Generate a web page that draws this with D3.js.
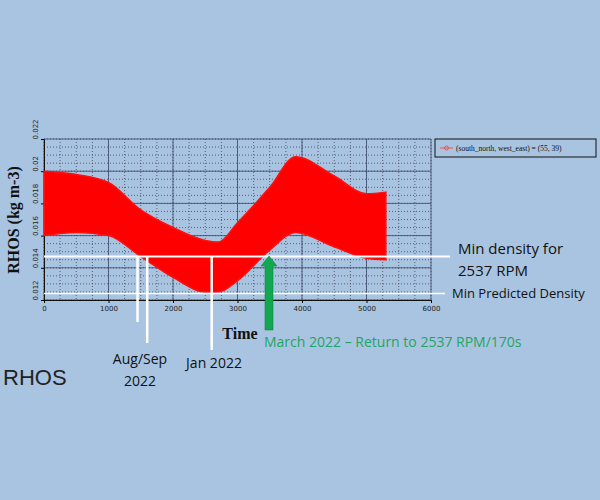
<!DOCTYPE html>
<html><head><meta charset="utf-8">
<script src="https://cdn.jsdelivr.net/npm/d3@7"></script>
<style>body{margin:0;background:#a9c4e0}svg{display:block}</style>
</head><body>
<svg id="c" width="600" height="500"></svg>
<script>
'use strict';
// envelope of the RHOS band
const timeVals  = [0, 500, 1000, 1500, 2000, 2500, 2700, 3000, 3500, 3900, 4500, 5000, 5300];
const upperVals = [0.0200, 0.0198, 0.0193, 0.0176, 0.0165, 0.0157, 0.0156, 0.0168, 0.0190, 0.0209, 0.0197, 0.0186, 0.0187];
const lowerVals = [0.0160, 0.0162, 0.0160, 0.0147, 0.0134, 0.0125, 0.0125, 0.0132, 0.0151, 0.0162, 0.0153, 0.0146, 0.0145];
const xTicks = [0, 1000, 2000, 3000, 4000, 5000, 6000];
const yTicks = [0.012, 0.014, 0.016, 0.018, 0.02, 0.022];
const minDensity = 0.0147, minPredicted = 0.0124;
const eventTimes = [1450, 1600, 2600];

const svg = d3.select('#c');
const x = d3.scaleLinear().domain([0, 6000]).range([44, 431]);
const y = d3.scaleLinear().domain([0.012, 0.022]).range([300, 139]);

// grid: dotted minor, solid major
const g = svg.append('g');
g.selectAll('.mx').data(d3.range(0, 6001, 250)).join('line')
  .attr('x1', d => x(d)).attr('x2', d => x(d)).attr('y1', 139).attr('y2', 300)
  .attr('stroke', '#334').attr('stroke-width', 0.7).attr('stroke-dasharray', '1,2');
g.selectAll('.my').data(d3.range(0, 21).map(i => 0.012 + i * 0.0005)).join('line')
  .attr('y1', d => y(d)).attr('y2', d => y(d)).attr('x1', 44).attr('x2', 431)
  .attr('stroke', '#334').attr('stroke-width', 0.7).attr('stroke-dasharray', '1,2');
g.selectAll('.Mx').data(xTicks).join('line')
  .attr('x1', d => x(d)).attr('x2', d => x(d)).attr('y1', 139).attr('y2', 300)
  .attr('stroke', '#3a4a6a').attr('stroke-width', 0.8);
g.selectAll('.My').data(yTicks).join('line')
  .attr('y1', d => y(d)).attr('y2', d => y(d)).attr('x1', 44).attr('x2', 431)
  .attr('stroke', '#3a4a6a').attr('stroke-width', 0.8);

// axes
svg.append('g').attr('transform', 'translate(0,300)')
  .call(d3.axisBottom(x).tickValues(xTicks).tickSize(3).tickFormat(d3.format('d')))
  .call(a => a.select('.domain').attr('stroke', '#111'))
  .call(a => a.selectAll('text').attr('font-size', 7).attr('font-family', 'DejaVu Sans').attr('fill', '#222'));
const ya = svg.append('g').attr('transform', 'translate(44,0)')
  .call(d3.axisLeft(y).tickValues(yTicks).tickSize(3).tickFormat(d => String(+d.toFixed(3))));
ya.select('.domain').attr('stroke', '#111');
ya.selectAll('text').attr('font-size', 7).attr('font-family', 'DejaVu Sans').attr('fill', '#222')
  .attr('transform', 'rotate(-90)').attr('x', 0).attr('y', -8).attr('dy', 0)
  .attr('text-anchor', 'start').attr('dominant-baseline', 'middle');
ya.selectAll('.tick').each(function() {
  const t = d3.select(this); const tr = t.attr('transform');
  t.select('text').attr('transform', 'translate(-8,0) rotate(-90)').attr('y', 0).attr('x', 0);
});

// red band
const rows = timeVals.map((t, i) => ({ t, hi: upperVals[i], lo: lowerVals[i] }));
svg.append('path').datum(rows)
  .attr('d', d3.area().x(d => x(d.t)).y0(d => y(d.lo)).y1(d => y(d.hi)).curve(d3.curveMonotoneX))
  .attr('fill', '#ff0000').attr('stroke', '#ff1010').attr('stroke-width', 1.5);

// legend
svg.append('rect').attr('x', 435).attr('y', 139).attr('width', 161).attr('height', 18)
  .attr('fill', 'none').attr('stroke', '#111').attr('stroke-width', 1);
svg.append('line').attr('x1', 440).attr('x2', 453).attr('y1', 148).attr('y2', 148).attr('stroke', '#e55');
svg.append('circle').attr('cx', 446.5).attr('cy', 148).attr('r', 2).attr('fill', 'none').attr('stroke', '#e55');
svg.append('text').attr('x', 456).attr('y', 151).attr('font-size', 7.5).attr('font-family', 'Liberation Serif')
  .attr('fill', '#111').text('(south_north, west_east) = (55, 39)');

// annotations
svg.append('line').attr('x1', 44).attr('x2', 450).attr('y1', y(minDensity)).attr('y2', y(minDensity))
  .attr('stroke', '#fff').attr('stroke-width', 2);
svg.append('line').attr('x1', 44).attr('x2', 445).attr('y1', y(minPredicted)).attr('y2', y(minPredicted))
  .attr('stroke', '#fff').attr('stroke-width', 1.5);
const ends = [322, 343, 350];
svg.selectAll('.ev').data(eventTimes).join('line')
  .attr('x1', d => x(d)).attr('x2', d => x(d)).attr('y1', y(minDensity))
  .attr('y2', (d, i) => ends[i]).attr('stroke', '#fff').attr('stroke-width', 2.5);

// green arrow
const ax = 269;
svg.append('path').attr('d', `M${ax - 4},330 L${ax - 4},266 L${ax - 8},266 L${ax},256 L${ax + 8},266 L${ax + 4},266 L${ax + 4},330 Z`)
  .attr('fill', '#12a850').attr('stroke', '#0a7a3a').attr('stroke-width', 0.5);

const txt = (tx, ty, s, o) => svg.append('text').attr('x', tx).attr('y', ty).text(s)
  .attr('font-family', o.f || 'Open Sans').attr('font-size', o.s).attr('fill', o.c || '#111')
  .attr('font-weight', o.w || 'normal').attr('text-anchor', o.a || 'start');
txt(458, 254, 'Min density for', { s: 15 });
txt(458, 276, '2537 RPM', { s: 15 });
txt(452, 298, 'Min Predicted Density', { s: 13 });
txt(240, 339, 'Time', { s: 16, f: 'Liberation Serif', w: 'bold', a: 'middle' });
txt(264, 347, 'March 2022 \u2013 Return to 2537 RPM/170s', { s: 14, c: '#1fa463' });
txt(140, 364, 'Aug/Sep', { s: 14, a: 'middle' });
txt(140, 386, '2022', { s: 14, a: 'middle' });
txt(214, 368, 'Jan 2022', { s: 14, a: 'middle' });
txt(3, 385, 'RHOS', { s: 22, f: 'Liberation Sans', c: '#222' });
svg.append('text').attr('transform', 'translate(19,220) rotate(-90)').attr('text-anchor', 'middle')
  .attr('font-family', 'Liberation Serif').attr('font-weight', 'bold').attr('font-size', 16).attr('fill', '#111')
  .text('RHOS (kg m-3)');
</script>
</body></html>
